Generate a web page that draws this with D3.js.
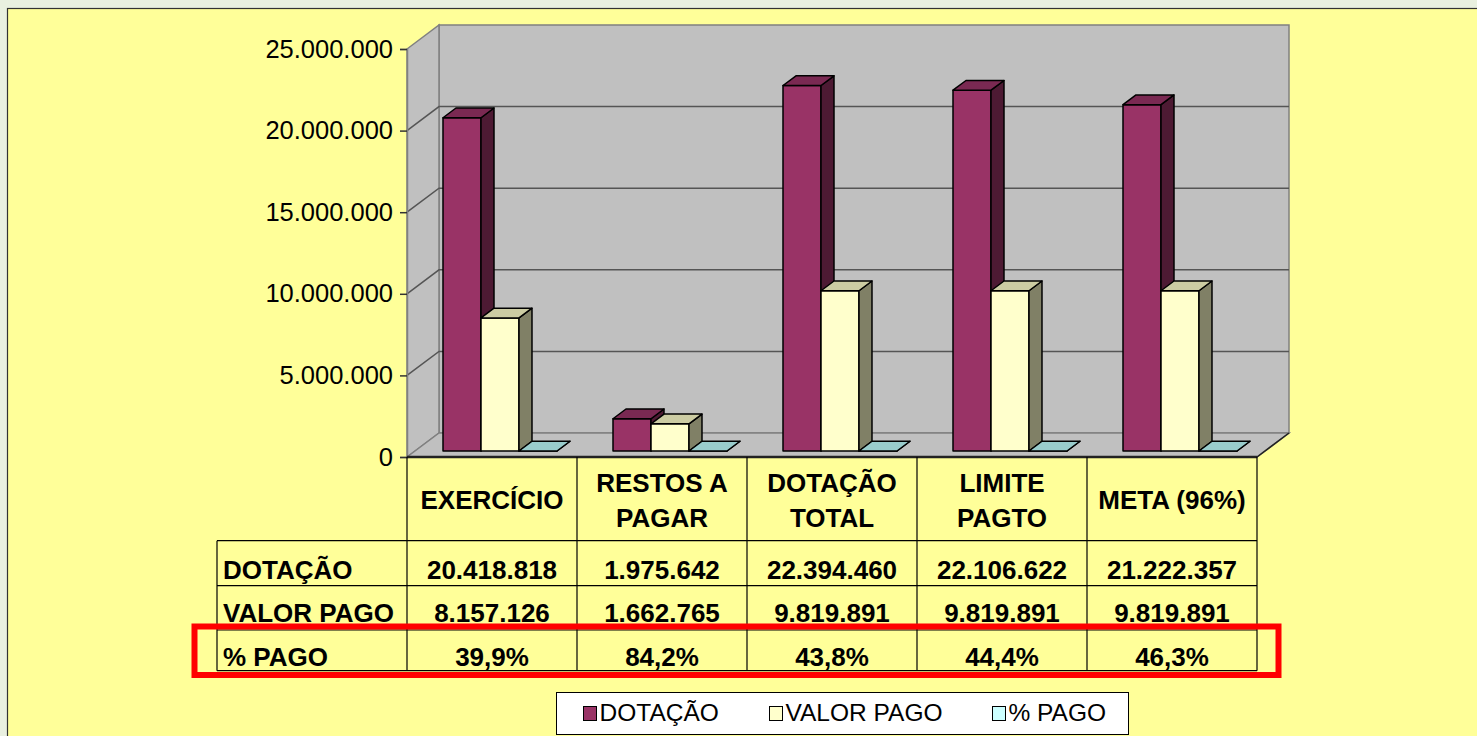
<!DOCTYPE html>
<html>
<head>
<meta charset="utf-8">
<script src="https://cdn.jsdelivr.net/npm/d3@7"></script>
<style>
  html, body { margin: 0; padding: 0; background: #E9F0E0; }
  svg { display: block; font-family: "Liberation Sans", Arial, sans-serif; }
</style>
</head>
<body>
<svg id="chart" width="1477" height="736"></svg>
<script>
// ---------- data ----------
const categories = ["EXERCÍCIO", "RESTOS A\nPAGAR", "DOTAÇÃO\nTOTAL", "LIMITE\nPAGTO", "META (96%)"];
const seriesNames = ["DOTAÇÃO", "VALOR PAGO", "% PAGO"];
const dotacao   = [20418818, 1975642, 22394460, 22106622, 21222357];
const valorPago = [8157126, 1662765, 9819891, 9819891, 9819891];
const pctPago   = [39.9, 84.2, 43.8, 44.4, 46.3];
const yTicks    = [0, 5000000, 10000000, 15000000, 20000000, 25000000];

// ---------- setup ----------
const locale = d3.formatLocale({decimal: ",", thousands: ".", grouping: [3], currency: ["R$", ""]});
const fmtInt = locale.format(",d");
const fmtPct = v => locale.format(".1f")(v) + "%";

const svg = d3.select("#chart");
const W = 1477, H = 736;
const DX = 32, DY = 24;          // wall depth
const Z0 = 0.25, Z1 = 0.656;     // bar depth range

const x = d3.scaleBand().domain(categories).range([407, 1257]).padding(0);
const xs = d3.scaleBand().domain(seriesNames).range([0, x.bandwidth()]).paddingInner(0).paddingOuter(0.737);
const y = d3.scaleLinear().domain([0, 25000000]).range([457, 49]);

const proj = (xf, v, z) => [xf + z * DX, y(v) - z * DY];
const pts = arr => arr.map(p => p.join(",")).join(" ");

// frame
svg.append("rect").attr("x", 7.5).attr("y", 8.5).attr("width", W + 10).attr("height", H + 10)
  .attr("fill", "#FFFF99").attr("stroke", "#333").attr("stroke-width", 1.2);

const xa = x.range()[0], xb = x.range()[1];
const yMax = yTicks[yTicks.length - 1];

// walls
const wallFill = "#C0C0C0", wallEdge = "#808080";
svg.append("polygon").attr("points", pts([proj(xa, yMax, 1), proj(xb, yMax, 1), proj(xb, 0, 1), proj(xa, 0, 1)]))
  .attr("fill", wallFill).attr("stroke", wallEdge).attr("stroke-width", 1.5);
svg.append("polygon").attr("points", pts([proj(xa, yMax, 0), proj(xa, yMax, 1), proj(xa, 0, 1), proj(xa, 0, 0)]))
  .attr("fill", wallFill).attr("stroke", wallEdge).attr("stroke-width", 1.5);
svg.append("polygon").attr("points", pts([proj(xa, 0, 0), proj(xa, 0, 1), proj(xb, 0, 1), proj(xb, 0, 0)]))
  .attr("fill", wallFill).attr("stroke", wallEdge).attr("stroke-width", 1.5);

// gridlines
const grid = svg.append("g");
yTicks.filter(t => t > 0 && t < yMax).forEach(t => {
  grid.append("polyline").attr("points", pts([proj(xa, t, 0), proj(xa, t, 1), proj(xb, t, 1)]))
    .attr("fill", "none").attr("stroke", "#555").attr("stroke-width", 1.5);
});

// floor front-right edge
svg.append("line")
  .attr("x1", proj(xb, 0, 0)[0]).attr("y1", proj(xb, 0, 0)[1])
  .attr("x2", proj(xb, 0, 1)[0]).attr("y2", proj(xb, 0, 1)[1])
  .attr("stroke", "#222").attr("stroke-width", 1.5);

// axis
const axis = svg.append("g").attr("transform", `translate(${xa},0)`)
  .call(d3.axisLeft(y).tickValues(yTicks).tickFormat(fmtInt).tickSize(7).tickPadding(7));
axis.select(".domain").attr("stroke", "#808080").attr("stroke-width", 1.5);
axis.selectAll(".tick line").attr("stroke", "#333").attr("stroke-width", 1.5);
axis.selectAll(".tick text").attr("font-size", 25.5).attr("fill", "#000")
  .attr("font-family", '"Liberation Sans", Arial, sans-serif');

// bars
const series = [
  {name: seriesNames[0], values: dotacao,   front: "#993366", side: "#4D1A33", top: "#7A2952"},
  {name: seriesNames[1], values: valorPago, front: "#FFFFCC", side: "#808066", top: "#CCCCA3"},
  {name: seriesNames[2], values: pctPago,   front: "#CCFFFF", side: "#668080", top: "#99CCCC"}
];
const barsG = svg.append("g");
categories.forEach((c, i) => {
  series.forEach(s => {
    const xl = x(c) + xs(s.name), xr = xl + xs.bandwidth(), v = s.values[i];
    const g = barsG.append("g").attr("stroke", "#000").attr("stroke-width", 1.5).attr("stroke-linejoin", "round");
    g.append("polygon").attr("points", pts([proj(xl, 0, Z0), proj(xr, 0, Z0), proj(xr, v, Z0), proj(xl, v, Z0)])).attr("fill", s.front);
    g.append("polygon").attr("points", pts([proj(xr, 0, Z0), proj(xr, 0, Z1), proj(xr, v, Z1), proj(xr, v, Z0)])).attr("fill", s.side);
    g.append("polygon").attr("points", pts([proj(xl, v, Z0), proj(xr, v, Z0), proj(xr, v, Z1), proj(xl, v, Z1)])).attr("fill", s.top);
  });
});

// ---------- data table ----------
const tbl = svg.append("g");
const tLeft = 217, rowY = [457, 540.7, 585.7, 630, 670.7];
const line = (x1, y1, x2, y2, w, col) => tbl.append("line").attr("x1", x1).attr("y1", y1).attr("x2", x2).attr("y2", y2)
  .attr("stroke", col || "#000").attr("stroke-width", w || 1);
line(xa, rowY[0], xb, rowY[0], 2.5, "#222");
for (let k = 1; k < rowY.length; k++) line(tLeft, rowY[k], xb, rowY[k], 1.2);
line(tLeft, rowY[1], tLeft, rowY[4], 1.2);
categories.forEach(c => line(x(c), rowY[0], x(c), rowY[4], 1.2));
line(xb, rowY[0], xb, rowY[4], 1.2);

// headers
categories.forEach(c => {
  const lines = c.split("\n");
  const cx = x(c) + x.bandwidth() / 2;
  const t = tbl.append("text").attr("text-anchor", "middle").attr("font-size", 26).attr("font-weight", "bold");
  if (lines.length === 1) {
    t.append("tspan").attr("x", cx).attr("y", 509).text(lines[0]);
  } else {
    t.append("tspan").attr("x", cx).attr("y", 492).text(lines[0]);
    t.append("tspan").attr("x", cx).attr("y", 527).text(lines[1]);
  }
});

// rows
const rows = [
  {label: seriesNames[0], vals: dotacao.map(fmtInt),   base: 579},
  {label: seriesNames[1], vals: valorPago.map(fmtInt), base: 622},
  {label: seriesNames[2], vals: pctPago.map(fmtPct),   base: 666}
];
rows.forEach(r => {
  tbl.append("text").attr("x", 223).attr("y", r.base).attr("font-size", 26).attr("font-weight", "bold").text(r.label);
  categories.forEach((c, i) => {
    tbl.append("text").attr("x", x(c) + x.bandwidth() / 2).attr("y", r.base)
      .attr("text-anchor", "middle").attr("font-size", 26).attr("font-weight", "bold").text(r.vals[i]);
  });
});

// red highlight
svg.append("rect").attr("x", 194.5).attr("y", 626.5).attr("width", 1084).attr("height", 48.5)
  .attr("fill", "none").attr("stroke", "#FF0000").attr("stroke-width", 6);

// ---------- legend ----------
const lg = svg.append("g");
lg.append("rect").attr("x", 556.5).attr("y", 692.5).attr("width", 572).attr("height", 42)
  .attr("fill", "#FFFFFF").attr("stroke", "#000").attr("stroke-width", 1);
const legendX = [583, 769, 992];
const legendCol = ["#993366", "#FFFFCC", "#CCFFFF"];
seriesNames.forEach((n, k) => {
  lg.append("rect").attr("x", legendX[k] + 0.5).attr("y", 706.5).attr("width", 13).attr("height", 14)
    .attr("fill", legendCol[k]).attr("stroke", "#000").attr("stroke-width", 1);
  lg.append("text").attr("x", legendX[k] + 16.5).attr("y", 721).attr("font-size", 24.5).text(n);
});
</script>
</body>
</html>
